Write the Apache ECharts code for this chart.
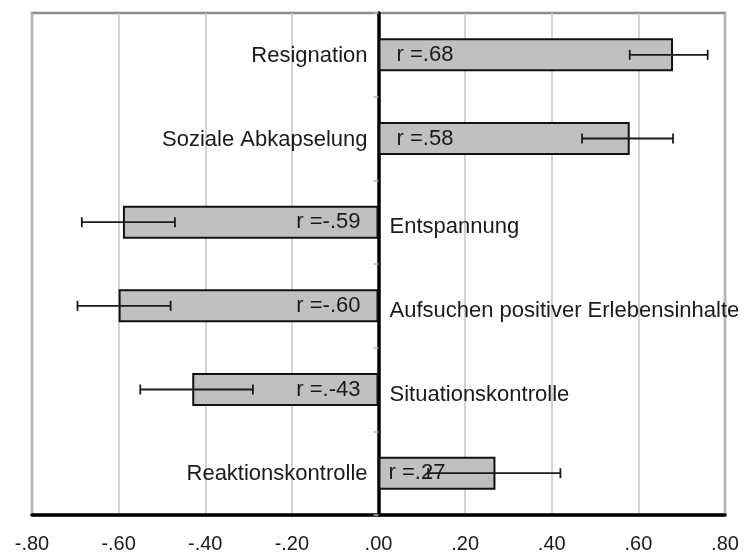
<!DOCTYPE html>
<html>
<head>
<meta charset="utf-8">
<script src="https://cdn.jsdelivr.net/npm/echarts@6/dist/echarts.min.js"></script>
<style>
  html, body { margin: 0; padding: 0; background: #fff; }
  #chart { width: 746px; height: 556px; }
</style>
</head>
<body>
<div id="chart"></div>
<script>
// Coping strategies and their correlation with the outcome measure
const categories = ['Resignation', 'Soziale Abkapselung', 'Entspannung',
  'Aufsuchen positiver Erlebensinhalte', 'Situationskontrolle', 'Reaktionskontrolle'];
const rValues = [0.68, 0.58, -0.59, -0.60, -0.43, 0.27];
const rLabels = ['r =.68', 'r =.58', 'r =-.59', 'r =-.60', 'r =.-43', 'r =.27'];
// confidence interval bounds per category
const ciLow = [0.58, 0.47, -0.685, -0.695, -0.55, 0.115];
const ciHigh = [0.76, 0.68, -0.47, -0.48, -0.29, 0.42];
const xMin = -0.8, xMax = 0.8, xStep = 0.2;

const FONT = '"Liberation Sans", Arial, sans-serif';
const TEXT = '#1a1a1a';

function fmtTick(v) {
  const s = Math.abs(v).toFixed(2).replace(/^0/, '');
  return (v < -1e-9 ? '-' : '') + s;
}

const chart = echarts.init(document.getElementById('chart'), null, { renderer: 'canvas' });

const barData = rValues.map((v, i) => ({
  value: v,
  label: {
    show: true,
    position: v >= 0 ? 'insideLeft' : 'insideRight',
    distance: (i === 5) ? 10 : 18,
    formatter: rLabels[i]
  }
}));

const nameData = rValues.map((v, i) => ({
  value: v,
  label: {
    show: true,
    position: v >= 0 ? 'left' : 'right',
    distance: 11,
    offset: v >= 0 ? [0, 1] : [0, 5],
    formatter: categories[i]
  }
}));

const errData = categories.map((c, i) => [i, ciLow[i], ciHigh[i]]);

chart.setOption({
  animation: false,
  backgroundColor: '#fff',
  textStyle: { fontFamily: FONT },
  grid: {
    left: 32, right: 21, top: 13, bottom: 41,
    show: true,
    borderColor: '#8c8c8c',
    borderWidth: 2.5,
    backgroundColor: 'transparent'
  },
  xAxis: {
    type: 'value',
    min: xMin, max: xMax, interval: xStep,
    axisLine: { show: true, lineStyle: { color: '#000', width: 3.5 } },
    axisTick: { show: false },
    splitLine: { show: true, lineStyle: { color: '#c4c4c4', width: 1.5 } },
    axisLabel: {
      formatter: fmtTick,
      fontSize: 20, color: TEXT, fontFamily: FONT, margin: 19
    }
  },
  yAxis: {
    type: 'category',
    data: categories,
    inverse: true,
    axisLine: { show: true, onZero: true, lineStyle: { color: '#000', width: 3.5 } },
    axisTick: { show: true, length: 5, interval: 0, lineStyle: { color: '#b5b5b5', width: 1.5 } },
    axisLabel: { show: false },
    splitLine: { show: false }
  },
  series: [
    {
      name: 'r',
      type: 'bar',
      data: barData,
      barWidth: 33,
      itemStyle: { color: '#c0c0c0', borderColor: '#111', borderWidth: 2 },
      label: { fontSize: 22, color: TEXT, fontFamily: FONT },
      z: 2
    },
    {
      name: 'Kategorie',
      type: 'bar',
      data: nameData,
      barWidth: 33,
      barGap: '-100%',
      itemStyle: { color: 'rgba(0,0,0,0)' },
      label: { fontSize: 22, color: TEXT, fontFamily: FONT },
      silent: true,
      z: 1
    },
    {
      name: 'KI',
      type: 'custom',
      data: errData,
      encode: { y: 0, x: [1, 2] },
      z: 5,
      renderItem: function (params, api) {
        const cat = api.value(0);
        const p1 = api.coord([api.value(1), cat]);
        const p2 = api.coord([api.value(2), cat]);
        const h = 5;
        const style = { stroke: '#1a1a1a', lineWidth: 1.8 };
        return {
          type: 'group',
          children: [
            { type: 'line', shape: { x1: p1[0], y1: p1[1], x2: p2[0], y2: p2[1] }, style: style },
            { type: 'line', shape: { x1: p1[0], y1: p1[1] - h, x2: p1[0], y2: p1[1] + h }, style: style },
            { type: 'line', shape: { x1: p2[0], y1: p2[1] - h, x2: p2[0], y2: p2[1] + h }, style: style }
          ]
        };
      }
    }
  ]
});
</script>
</body>
</html>
